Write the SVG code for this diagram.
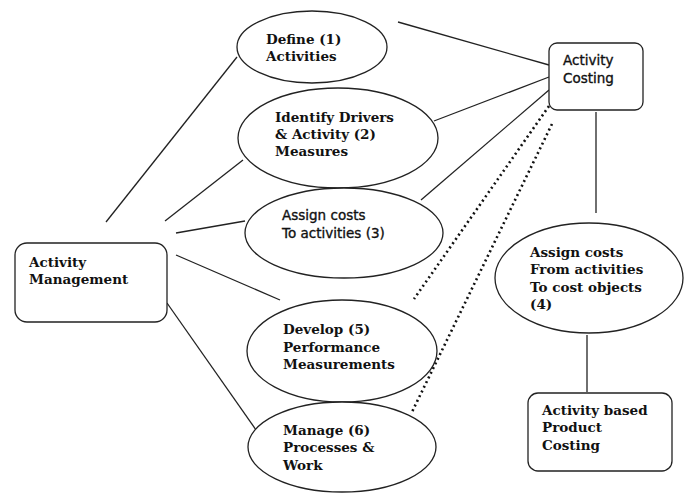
<svg xmlns="http://www.w3.org/2000/svg" width="689" height="500" viewBox="0 0 689 500">
<style>
.n{fill:#fff;stroke:#222;stroke-width:1.3}
.c{stroke:#222;stroke-width:1.3;fill:none}
.d{stroke:#111;stroke-width:2.6;fill:none;stroke-dasharray:2 3.2}
.t{font-family:"DejaVu Serif",serif;font-weight:bold;font-size:13.5px;fill:#111}
.s{font-family:"DejaVu Sans",sans-serif;font-size:13.5px;fill:#111;stroke:#111;stroke-width:0.35}
</style>
<rect width="689" height="500" fill="#fff"/>
<g id="connectors">
<line class="c" x1="106" y1="222" x2="237" y2="57"/>
<line class="c" x1="165" y1="221" x2="243" y2="160"/>
<line class="c" x1="176" y1="233" x2="245" y2="221"/>
<line class="c" x1="176" y1="255" x2="280" y2="300"/>
<line class="c" x1="167" y1="303" x2="256" y2="430"/>
<line class="c" x1="398" y1="22" x2="549" y2="65"/>
<line class="c" x1="434" y1="121" x2="549" y2="77"/>
<line class="c" x1="421" y1="200" x2="549" y2="90"/>
<line class="d" x1="549" y1="106" x2="414" y2="299"/>
<line class="d" x1="552" y1="124" x2="411" y2="414"/>
<line class="c" x1="596" y1="112" x2="596" y2="213"/>
<line class="c" x1="587" y1="335" x2="587" y2="392"/>
</g>
<g id="activity-management">
<rect class="n" x="15" y="243" width="152" height="79" rx="12"/>
<text class="t" x="29" y="267">Activity</text>
<text class="t" x="29" y="284">Management</text>
</g>
<g id="define">
<ellipse class="n" cx="312" cy="47" rx="75" ry="36"/>
<text class="t" x="266" y="44">Define (1)</text>
<text class="t" x="266" y="61">Activities</text>
</g>
<g id="identify">
<ellipse class="n" cx="338" cy="138" rx="100" ry="50"/>
<text class="t" x="275" y="122">Identify Drivers</text>
<text class="t" x="275" y="139">&amp; Activity (2)</text>
<text class="t" x="275" y="156">Measures</text>
</g>
<g id="assign-costs">
<ellipse class="n" cx="344" cy="233" rx="99" ry="45"/>
<text class="s" x="282" y="220">Assign costs</text>
<text class="s" x="282" y="238">To activities (3)</text>
</g>
<g id="develop">
<ellipse class="n" cx="342" cy="351" rx="95" ry="51"/>
<text class="t" x="283" y="334">Develop (5)</text>
<text class="t" x="283" y="352">Performance</text>
<text class="t" x="283" y="369">Measurements</text>
</g>
<g id="manage">
<ellipse class="n" cx="342" cy="447" rx="94" ry="45"/>
<text class="t" x="283" y="435">Manage (6)</text>
<text class="t" x="283" y="452">Processes &amp;</text>
<text class="t" x="283" y="470">Work</text>
</g>
<g id="activity-costing">
<rect class="n" x="549" y="43" width="94" height="67" rx="8"/>
<text class="s" x="563" y="65">Activity</text>
<text class="s" x="563" y="83">Costing</text>
</g>
<g id="assign-to-objects">
<ellipse class="n" cx="589" cy="278" rx="94" ry="55"/>
<text class="t" x="530" y="257">Assign costs</text>
<text class="t" x="530" y="274">From activities</text>
<text class="t" x="530" y="292">To cost objects</text>
<text class="t" x="530" y="309">(4)</text>
</g>
<g id="product-costing">
<rect class="n" x="528" y="393" width="144" height="78" rx="10"/>
<text class="t" x="542" y="415">Activity based</text>
<text class="t" x="542" y="432">Product</text>
<text class="t" x="542" y="450">Costing</text>
</g>
</svg>
